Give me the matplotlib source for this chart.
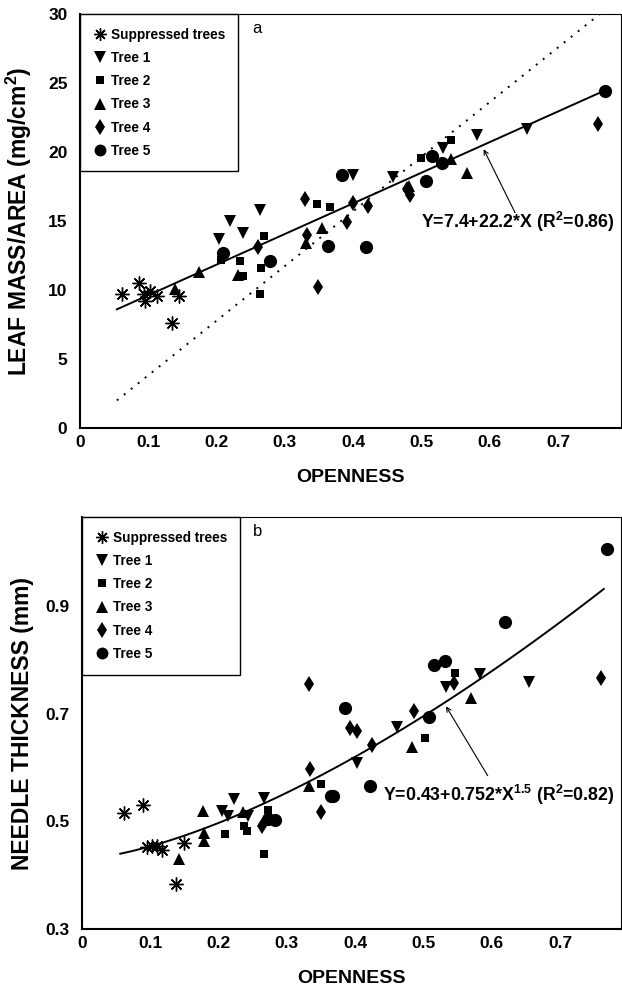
import matplotlib
matplotlib.use("Agg")
import matplotlib.pyplot as plt
import numpy as np
from matplotlib.lines import Line2D

plt.rcParams['font.family'] = ['Liberation Sans', 'DejaVu Sans']
plt.rcParams['mathtext.fontset'] = 'custom'
plt.rcParams['mathtext.rm'] = 'Liberation Sans:bold'
plt.rcParams['mathtext.bf'] = 'Liberation Sans:bold'
plt.rcParams['mathtext.it'] = 'Liberation Sans:bold'

# ---------------- data: panel a (leaf mass / area) ----------------
a_supp_x = [0.061, 0.087, 0.093, 0.095, 0.102, 0.113, 0.134, 0.145]
a_supp_y = [9.7, 10.5, 9.7, 9.2, 9.9, 9.6, 7.6, 9.6]
a_t1_x = [0.203, 0.220, 0.239, 0.264, 0.400, 0.459, 0.532, 0.581, 0.654]
a_t1_y = [13.7, 15.0, 14.1, 15.8, 18.3, 18.2, 20.3, 21.2, 21.7]
a_t2_x = [0.207, 0.234, 0.239, 0.265, 0.264, 0.270, 0.347, 0.366, 0.499, 0.543]
a_t2_y = [12.2, 12.1, 11.0, 11.6, 9.7, 13.9, 16.2, 16.0, 19.6, 20.9]
a_t3_x = [0.139, 0.174, 0.232, 0.331, 0.354, 0.482, 0.543, 0.567]
a_t3_y = [10.1, 11.3, 11.1, 13.4, 14.5, 17.5, 19.5, 18.5]
a_t4_x = [0.260, 0.329, 0.332, 0.349, 0.391, 0.400, 0.422, 0.479, 0.483, 0.759]
a_t4_y = [13.1, 16.6, 14.0, 10.2, 14.9, 16.3, 16.1, 17.3, 16.9, 22.0]
a_t5_x = [0.209, 0.278, 0.363, 0.383, 0.419, 0.506, 0.515, 0.530, 0.769]
a_t5_y = [12.7, 12.1, 13.2, 18.3, 13.1, 17.9, 19.7, 19.2, 24.4]
a_fit_intercept, a_fit_slope = 7.4, 22.2
a_fit_range = [0.054, 0.761]
a_dot_intercept, a_dot_slope = -0.14, 39.6
a_dot_range = [0.054, 0.761]

# ---------------- data: panel b (needle thickness) ----------------
b_supp_x = [0.062, 0.089, 0.095, 0.102, 0.110, 0.117, 0.149, 0.138]
b_supp_y = [0.515, 0.530, 0.453, 0.454, 0.455, 0.446, 0.459, 0.384]
b_t1_x = [0.205, 0.214, 0.222, 0.243, 0.267, 0.403, 0.461, 0.533, 0.582, 0.655]
b_t1_y = [0.519, 0.511, 0.542, 0.510, 0.544, 0.609, 0.676, 0.750, 0.774, 0.760]
b_t2_x = [0.210, 0.237, 0.242, 0.273, 0.267, 0.350, 0.502, 0.546]
b_t2_y = [0.476, 0.491, 0.482, 0.521, 0.439, 0.569, 0.655, 0.776]
b_t3_x = [0.142, 0.177, 0.178, 0.178, 0.235, 0.333, 0.483, 0.570]
b_t3_y = [0.430, 0.519, 0.478, 0.463, 0.517, 0.566, 0.639, 0.729]
b_t4_x = [0.264, 0.334, 0.332, 0.350, 0.393, 0.403, 0.424, 0.486, 0.544, 0.760]
b_t4_y = [0.491, 0.598, 0.756, 0.517, 0.674, 0.669, 0.643, 0.706, 0.758, 0.767]
b_t5_x = [0.272, 0.282, 0.364, 0.368, 0.385, 0.422, 0.508, 0.516, 0.531, 0.619, 0.769]
b_t5_y = [0.504, 0.502, 0.547, 0.547, 0.711, 0.565, 0.695, 0.791, 0.799, 0.870, 1.006]
b_fit_a, b_fit_b, b_fit_p = 0.43, 0.752, 1.5
b_fit_range = [0.056, 0.764]

labels = ["Suppressed trees", "Tree 1", "Tree 2", "Tree 3", "Tree 4", "Tree 5"]
x_ticks = [0, 0.1, 0.2, 0.3, 0.4, 0.5, 0.6, 0.7]
x_ticklabels = ["0", "0.1", "0.2", "0.3", "0.4", "0.5", "0.6", "0.7"]
a_yticks = [0, 5, 10, 15, 20, 25, 30]
b_yticks = [0.3, 0.5, 0.7, 0.9]
b_yticklabels = ["0.3", "0.5", "0.7", "0.9"]

# marker styles
styles = [
    dict(marker=(8, 2, 0), ms=10, mew=1.0, mfc='none', mec='black'),
    dict(marker='v', ms=9, mew=0, mfc='black'),
    dict(marker='s', ms=6, mew=0, mfc='black'),
    dict(marker='^', ms=9, mew=0, mfc='black'),
    dict(marker='d', ms=8.5, mew=0, mfc='black'),
    dict(marker='o', ms=9.5, mew=0, mfc='black'),
]

W, H = 622, 991
fig = plt.figure(figsize=(W / 100, H / 100), dpi=100)
axA = fig.add_axes([80 / W, 1 - 428 / H, 541 / W, 414 / H])
axB = fig.add_axes([82 / W, 1 - 929 / H, 539 / W, 412 / H])


def style_axes(ax):
    for s in ['left', 'bottom']:
        ax.spines[s].set_linewidth(1.5)
    for s in ['top', 'right']:
        ax.spines[s].set_linewidth(0.8)
    ax.tick_params(length=0, labelsize=12.5)
    ax.tick_params(axis='y', pad=9)
    ax.tick_params(axis='x', pad=5)
    for lab in ax.get_xticklabels() + ax.get_yticklabels():
        lab.set_fontweight('bold')


def add_legend(ax):
    handles = [Line2D([], [], linestyle='none', color='black', **st) for st in styles]
    leg = ax.legend(handles, labels, loc='upper left', bbox_to_anchor=(0, 1),
                    borderaxespad=0, frameon=True, fancybox=False, edgecolor='black',
                    framealpha=1, prop=dict(weight='bold', size=9.8), handlelength=0.9,
                    handletextpad=0.35, labelspacing=0.68, borderpad=1.0,
                    markerscale=0.9)
    leg.get_frame().set_linewidth(1.0)


# ---------------- panel a ----------------
seriesA = [(a_supp_x, a_supp_y), (a_t1_x, a_t1_y), (a_t2_x, a_t2_y),
           (a_t3_x, a_t3_y), (a_t4_x, a_t4_y), (a_t5_x, a_t5_y)]
for (xs, ys), st in zip(seriesA, styles):
    axA.plot(xs, ys, linestyle='none', color='black', **st, zorder=3)
xf = np.linspace(a_fit_range[0], a_fit_range[1], 50)
axA.plot(xf, a_fit_intercept + a_fit_slope * xf, color='black', lw=1.4, zorder=2)
xd = np.linspace(a_dot_range[0], a_dot_range[1], 50)
axA.plot(xd, a_dot_intercept + a_dot_slope * xd, color='black', lw=1.4,
         linestyle=(0, (1, 3.6)), zorder=2)
axA.set_xlim(0, 541 / 683)
axA.set_ylim(0, 30)
axA.set_xticks(x_ticks)
axA.set_xticklabels(x_ticklabels)
axA.set_yticks(a_yticks)
axA.set_xlabel("OPENNESS", fontsize=14, fontweight='bold', labelpad=14)
axA.set_ylabel("LEAF MASS/AREA (mg/cm$^{2}$)", fontsize=16.5, fontweight='bold')
axA.yaxis.set_label_coords(-0.085, 0.5)
style_axes(axA)
add_legend(axA)
axA.text(0.318, 0.965, "a", transform=axA.transAxes, fontsize=12, ha='left', va='center')
axA.text(0.499, 14.9, "Y=7.4+22.2*X (R$^{2}$=0.86)", fontsize=12.8, fontweight='bold',
         ha='left', va='center')
axA.annotate('', xy=(0.591, 20.2), xytext=(0.637, 15.6),
             arrowprops=dict(arrowstyle='->', lw=0.8, color='black',
                             shrinkA=0, shrinkB=0, mutation_scale=8))

# ---------------- panel b ----------------
seriesB = [(b_supp_x, b_supp_y), (b_t1_x, b_t1_y), (b_t2_x, b_t2_y),
           (b_t3_x, b_t3_y), (b_t4_x, b_t4_y), (b_t5_x, b_t5_y)]
for (xs, ys), st in zip(seriesB, styles):
    axB.plot(xs, ys, linestyle='none', color='black', **st, zorder=3)
xf = np.linspace(b_fit_range[0], b_fit_range[1], 100)
axB.plot(xf, b_fit_a + b_fit_b * xf ** b_fit_p, color='black', lw=1.4, zorder=2)
axB.set_xlim(0, 539 / 683)
axB.set_ylim(0.3, 1.066)
axB.set_xticks(x_ticks)
axB.set_xticklabels(x_ticklabels)
axB.set_yticks(b_yticks)
axB.set_yticklabels(b_yticklabels)
axB.set_xlabel("OPENNESS", fontsize=14, fontweight='bold', labelpad=14)
axB.set_ylabel("NEEDLE THICKNESS (mm)", fontsize=16.5, fontweight='bold')
axB.yaxis.set_label_coords(-0.089, 0.5)
style_axes(axB)
add_legend(axB)
axB.text(0.318, 0.965, "b", transform=axB.transAxes, fontsize=12, ha='left', va='center')
axB.text(0.441, 0.549, "Y=0.43+0.752*X$^{1.5}$ (R$^{2}$=0.82)", fontsize=12.8,
         fontweight='bold', ha='left', va='center')
axB.annotate('', xy=(0.533, 0.714), xytext=(0.594, 0.585),
             arrowprops=dict(arrowstyle='->', lw=0.8, color='black',
                             shrinkA=0, shrinkB=0, mutation_scale=8))

fig.savefig("out.png", dpi=100)
